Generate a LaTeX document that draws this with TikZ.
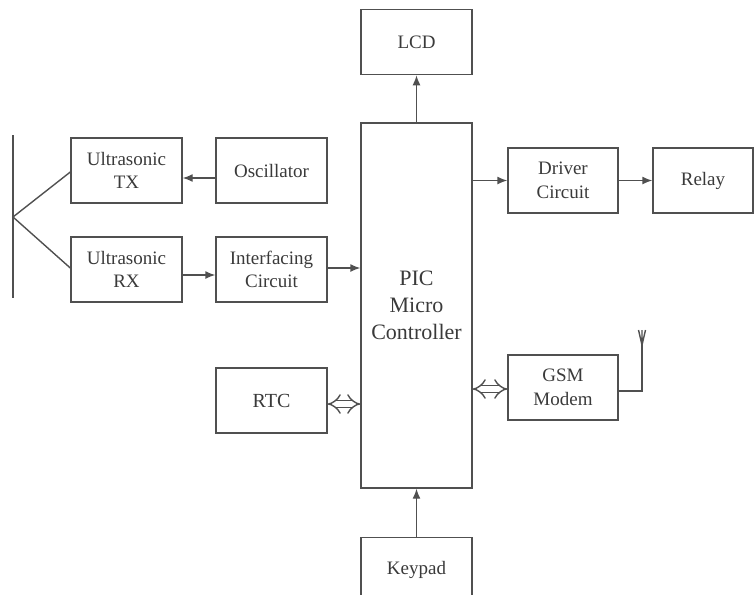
\documentclass[tikz,border=0pt]{standalone}
\usepackage{fontspec}
\setmainfont{Liberation Serif}
\usetikzlibrary{arrows.meta,positioning}
\definecolor{LineGray}{HTML}{505050}
\definecolor{TextGray}{HTML}{3A3A3A}

\begin{document}
\begin{tikzpicture}[
    x=1pt,y=-1pt,
    block/.style={draw=LineGray,line width=1.4pt,minimum width=111pt,minimum height=65pt,inner sep=0pt,align=center,
      text=TextGray,font=\fontsize{19}{23.5}\selectfont},
    arr/.style={-{Latex[length=10pt,width=8pt]},line width=1.4pt,LineGray},
    dbl/.style={{Implies[length=10pt,width=24pt]}-{Implies[length=10pt,width=24pt]},double=white,double distance=5.5pt,line width=1.4pt,draw=LineGray},
    wire/.style={line width=1.4pt,LineGray}
  ]
    \useasboundingbox (0,0) rectangle (754,594);
    % controller and the blocks round it
    \node[block,minimum height=365pt,font=\fontsize{22}{27}\selectfont] (pic) at (416.5,305.5) {PIC\\Micro\\Controller};
    \node[block,above=47pt of pic] (lcd) {LCD};
    \node[block,below=48pt of pic] (keypad) {Keypad};
    \node[block] (tx) at (126.5,170.5) {Ultrasonic\\TX};
    \node[block] (rx) at (126.5,269.5) {Ultrasonic\\RX};
    \node[block] (osc) at (271.5,170.5) {Oscillator};
    \node[block] (intf) at (271.5,269.5) {Interfacing\\Circuit};
    \node[block,minimum width=110pt] (driver) at (563,180.5) {Driver\\Circuit};
    \node[block,minimum width=100pt] (relay) at (703,180.5) {Relay};
    \node[block,font=\fontsize{20}{24}\selectfont] (rtc) at (271.5,400.5) {RTC};
    \node[block,minimum width=110pt] (gsm) at (563,387.5) {GSM\\Modem};
    % transducer and antenna
    \coordinate (wallT) at (13,135);
    \coordinate (wallB) at (13,298);
    \coordinate (apex) at (13,217);
    \coordinate (ant) at (642,345);
    \coordinate (intfout) at ([yshift=1.5pt]intf.east);
    \coordinate (rtcout) at ([yshift=-3.5pt]rtc.east);
    \coordinate (gsmin) at ([yshift=-1.5pt]gsm.west);
    \draw[wire] (wallT) -- (wallB);
    \draw[wire] ([yshift=-1.5pt]tx.west) -- (apex) -- ([yshift=1.5pt]rx.west);
    \draw[wire] ([yshift=-3.5pt]gsm.east) -| (ant);
    \draw[wire] (ant) -- ++(0,-15) (ant) -- ++(-3.5,-15) (ant) -- ++(3.5,-15);
    % signal flow
    \draw[arr] (pic.north) -- (lcd.south);
    \draw[arr] (keypad.north) -- (pic.south);
    \draw[arr] ([yshift=-7.5pt]osc.west) -- ([yshift=-7.5pt]tx.east);
    \draw[arr] ([yshift=-5.5pt]rx.east) -- ([yshift=-5.5pt]intf.west);
    \draw[arr] (intfout) -- (pic.west |- intfout);
    \draw[arr] (pic.east |- driver.west) -- (driver.west);
    \draw[arr] (driver) -- (relay);
    \draw[dbl] (rtcout) -- (pic.west |- rtcout);
    \draw[dbl] (pic.east |- gsmin) -- (gsmin);
\end{tikzpicture}
\end{document}
